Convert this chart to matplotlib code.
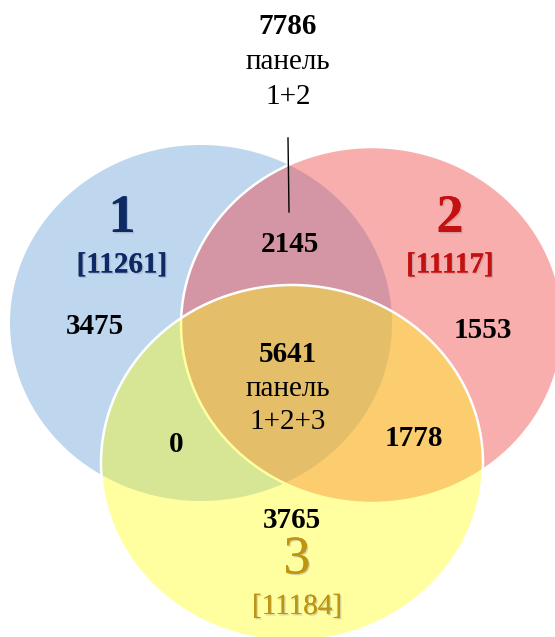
import matplotlib
matplotlib.use('Agg')
import matplotlib.pyplot as plt
import matplotlib.patheffects as pe
from matplotlib.patches import Ellipse

plt.rcParams['font.family'] = ['Liberation Serif', 'DejaVu Serif']

# данные диаграммы
set_names = ['1', '2', '3']
set_totals = [11261, 11117, 11184]
only_1, only_2, only_3 = 3475, 1553, 3765
both_12, both_13, both_23 = 2145, 0, 1778
all_123 = 5641
panel_12 = 7786
panel_word = 'панель'

# цвета
label_colors = ['#0E2A66', '#C41010', '#BF9410']
fill_colors = [(0.745, 0.843, 0.933, 1.0),
               (0.953, 0.243, 0.243, 0.42),
               (1.0, 1.0, 0.03, 0.385)]
edge_colors = ['none', 'white', 'white']

fig = plt.figure(figsize=(5.55, 6.37), dpi=100)
ax = fig.add_axes([0, 0, 1, 1])
ax.set_xlim(0, 555)
ax.set_ylim(637, 0)
ax.axis('off')

# эллипсы (центр, ширина, высота) в пикселях
centers = [(201, 323), (372, 325), (292, 463)]
for (cx, cy), fc, ec in zip(centers, fill_colors, edge_colors):
    ax.add_patch(Ellipse((cx, cy), 382, 356, facecolor=fc,
                         edgecolor=ec, linewidth=1.8))

shadow = [pe.withSimplePatchShadow(offset=(1, -1), shadow_rgbFace='gray',
                                   alpha=0.35), pe.Normal()]

# подписи множеств
label_pos = [(122, 219, 265), (450, 219, 265), (297, 560, 607)]
for i, (x, y1, y2) in enumerate(label_pos):
    w = 'normal' if i == 2 else 'bold'
    ax.text(x, y1, set_names[i], color=label_colors[i], fontsize=39,
            fontweight=w, ha='center', va='center', path_effects=shadow)
    ax.text(x, y2, f'[{set_totals[i]}]', color=label_colors[i], fontsize=21,
            fontweight=w, ha='center', va='center', path_effects=shadow)

# числа в областях
num_kw = dict(fontsize=21, fontweight='bold', ha='center', va='center')
txt_kw = dict(fontsize=21, ha='center', va='center')
ax.text(95, 327, str(only_1), **num_kw)
ax.text(483, 331, str(only_2), **num_kw)
ax.text(292, 520, str(only_3), **num_kw)
ax.text(290, 244, str(both_12), **num_kw)
ax.text(176, 444, str(both_13), **num_kw)
ax.text(414, 439, str(both_23), **num_kw)
ax.text(288, 354, str(all_123), **num_kw)
ax.text(288, 389, panel_word, **txt_kw)
ax.text(288, 422, '1+2+3', **txt_kw)

# выноска панель 1+2
ax.text(288, 27, str(panel_12), **num_kw)
ax.text(288, 62, panel_word, **txt_kw)
ax.text(288, 97, '1+2', **txt_kw)
ax.plot([288, 289], [138, 212], color='black', linewidth=1)

fig.savefig('out.png', dpi=100)
